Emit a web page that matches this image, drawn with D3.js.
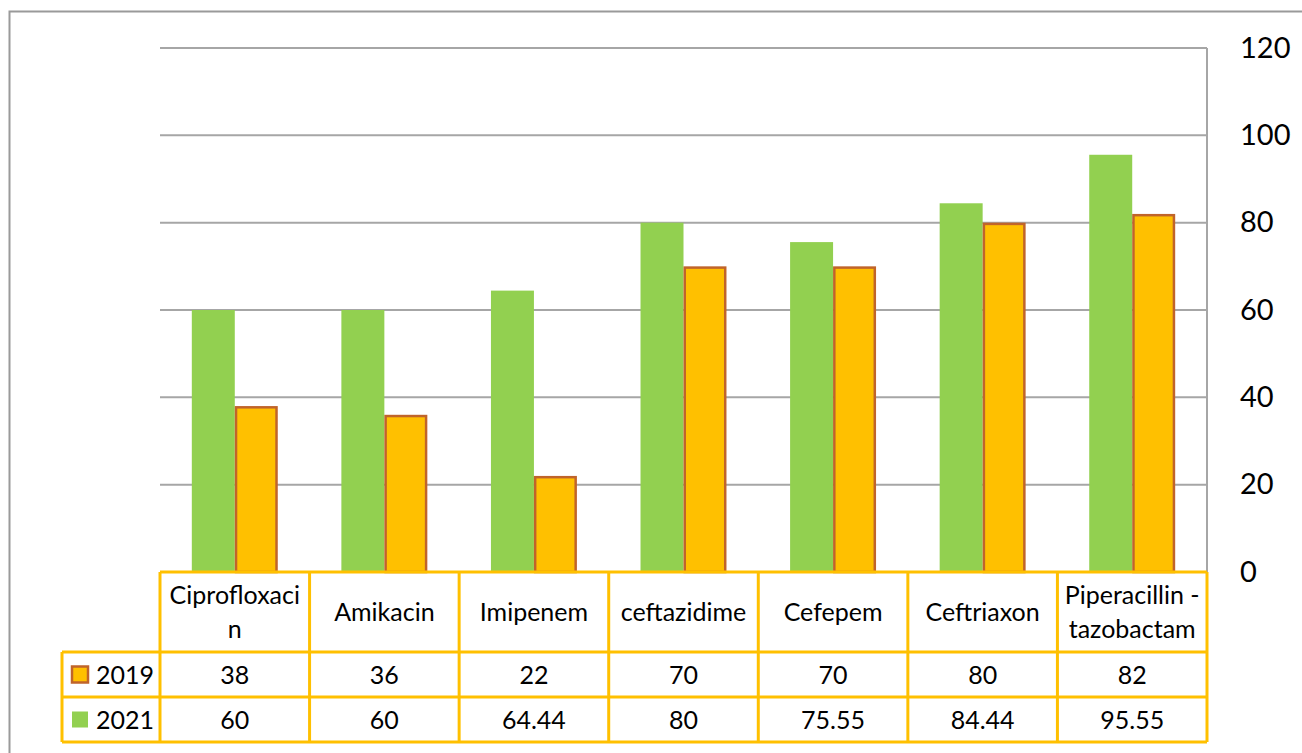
<!DOCTYPE html>
<html>
<head>
<meta charset="utf-8">
<script src="https://cdn.jsdelivr.net/npm/d3@7"></script>
<style>
  html, body { margin: 0; padding: 0; background: #fff; }
  svg { display: block; font-family: Lato, "Open Sans", sans-serif; }
</style>
</head>
<body>
<svg id="chart" width="1302" height="753"></svg>
<script>
// Antibiotic resistance by drug, 2019 vs 2021 (%)
const categories = [
  ["Ciprofloxaci", "n"],
  ["Amikacin"],
  ["Imipenem"],
  ["ceftazidime"],
  ["Cefepem"],
  ["Ceftriaxon"],
  ["Piperacillin -", "tazobactam"]
];
const seriesNames = ["2019", "2021"];
const values2019 = [38, 36, 22, 70, 70, 80, 82];
const values2021 = [60, 60, 64.44, 80, 75.55, 84.44, 95.55];
const tableLabels2019 = ["38", "36", "22", "70", "70", "80", "82"];
const tableLabels2021 = ["60", "60", "64.44", "80", "75.55", "84.44", "95.55"];
const yTicks = [0, 20, 40, 60, 80, 100, 120];

const colors = { "2021": "#92D050", "2019": "#FFC000" };
const stroke2019 = "#C0642A";
const tableLine = "#FFC000";

const svg = d3.select("#chart");

// Outer chart frame
svg.append("path")
  .attr("d", "M9.5,753 L9.5,11.5 L1302,11.5")
  .attr("fill", "none").attr("stroke", "#9a9a9a").attr("stroke-width", 2);

const plot = { left: 160, right: 1207, top: 48, bottom: 572 };

const x = d3.scaleBand()
  .domain(d3.range(categories.length))
  .range([plot.left, plot.right])
  .paddingInner(0).paddingOuter(0);

const xInner = d3.scaleBand()
  .domain(["2021", "2019"])
  .range([0, x.bandwidth()])
  .paddingInner(0).paddingOuter(0.74);

const y = d3.scaleLinear().domain([0, 120]).range([plot.bottom, plot.top]);

// Gridlines
svg.append("g").selectAll("line")
  .data(yTicks.filter(t => t > 0))
  .join("line")
  .attr("x1", plot.left).attr("x2", plot.right)
  .attr("y1", d => y(d)).attr("y2", d => y(d))
  .attr("stroke", "#a6a6a6").attr("stroke-width", 2);

// Right-hand plot border
svg.append("line")
  .attr("x1", plot.right).attr("x2", plot.right)
  .attr("y1", plot.top).attr("y2", plot.bottom)
  .attr("stroke", "#a6a6a6").attr("stroke-width", 2);

// Right axis labels
const yAxis = d3.axisRight(y).tickValues(yTicks).tickSize(0).tickPadding(33);
const gy = svg.append("g")
  .attr("transform", `translate(${plot.right},0)`)
  .call(yAxis);
gy.select(".domain").remove();
gy.selectAll("text")
  .attr("font-family", "Lato, sans-serif")
  .attr("font-size", 29)
  .attr("fill", "#000");

// Bars
const rows = categories.map((c, i) => ({ i, "2019": values2019[i], "2021": values2021[i] }));
const groups = svg.append("g").selectAll("g")
  .data(rows).join("g")
  .attr("transform", d => `translate(${x(d.i)},0)`);

groups.append("rect")
  .attr("x", xInner("2021"))
  .attr("width", xInner.bandwidth())
  .attr("y", d => y(d["2021"]))
  .attr("height", d => y(0) - y(d["2021"]))
  .attr("fill", colors["2021"]);

groups.append("rect")
  .attr("x", xInner("2019") + 1.25)
  .attr("width", xInner.bandwidth() - 2.5)
  .attr("y", d => y(d["2019"]) + 1.25)
  .attr("height", d => y(0) - y(d["2019"]) - 1.25)
  .attr("fill", colors["2019"])
  .attr("stroke", stroke2019).attr("stroke-width", 2.5);

// Data table
const table = svg.append("g");
const headerTop = y(0);
const headerBottom = 652;
const row1Bottom = 697;
const row2Bottom = 742;
const legendLeft = 62;
const cellFont = 25;

const tl = (x1, y1, x2, y2) => table.append("line")
  .attr("x1", x1).attr("y1", y1).attr("x2", x2).attr("y2", y2)
  .attr("stroke", tableLine).attr("stroke-width", 3);

tl(plot.left, headerTop, plot.right, headerTop);
tl(legendLeft, headerBottom, plot.right, headerBottom);
tl(legendLeft, row1Bottom, plot.right, row1Bottom);
tl(legendLeft, row2Bottom, plot.right, row2Bottom);
tl(legendLeft, headerBottom, legendLeft, row2Bottom);
x.domain().forEach(i => tl(x(i), headerTop, x(i), row2Bottom));
tl(plot.right, headerTop, plot.right, row2Bottom);

// Header (category names)
const headerMid = (headerTop + headerBottom) / 2;
categories.forEach((lines, i) => {
  const cx = x(i) + x.bandwidth() / 2;
  const lh = 34;
  const startY = headerMid - (lines.length - 1) * lh / 2 + 9;
  lines.forEach((ln, k) => {
    table.append("text")
      .attr("x", cx).attr("y", startY + k * lh)
      .attr("text-anchor", "middle")
      .attr("font-size", cellFont)
      .attr("fill", "#000")
      .text(ln);
  });
});

// Value rows
const rowDefs = [
  { name: seriesNames[0], labels: tableLabels2019, top: headerBottom, bottom: row1Bottom },
  { name: seriesNames[1], labels: tableLabels2021, top: row1Bottom, bottom: row2Bottom }
];
rowDefs.forEach(r => {
  const cy = (r.top + r.bottom) / 2;
  r.labels.forEach((t, i) => {
    table.append("text")
      .attr("x", x(i) + x.bandwidth() / 2).attr("y", cy + 9)
      .attr("text-anchor", "middle")
      .attr("font-size", cellFont)
      .attr("fill", "#000")
      .text(t);
  });
  // legend key
  if (r.name === "2019") {
    table.append("rect")
      .attr("x", 72).attr("y", cy - 8).attr("width", 16).attr("height", 16)
      .attr("fill", colors["2019"]).attr("stroke", stroke2019).attr("stroke-width", 2.5);
  } else {
    table.append("rect")
      .attr("x", 72).attr("y", cy - 8).attr("width", 16).attr("height", 16)
      .attr("fill", colors["2021"]);
  }
  table.append("text")
    .attr("x", 96).attr("y", cy + 9)
    .attr("font-size", cellFont)
    .attr("fill", "#000")
    .text(r.name);
});
</script>
</body>
</html>
